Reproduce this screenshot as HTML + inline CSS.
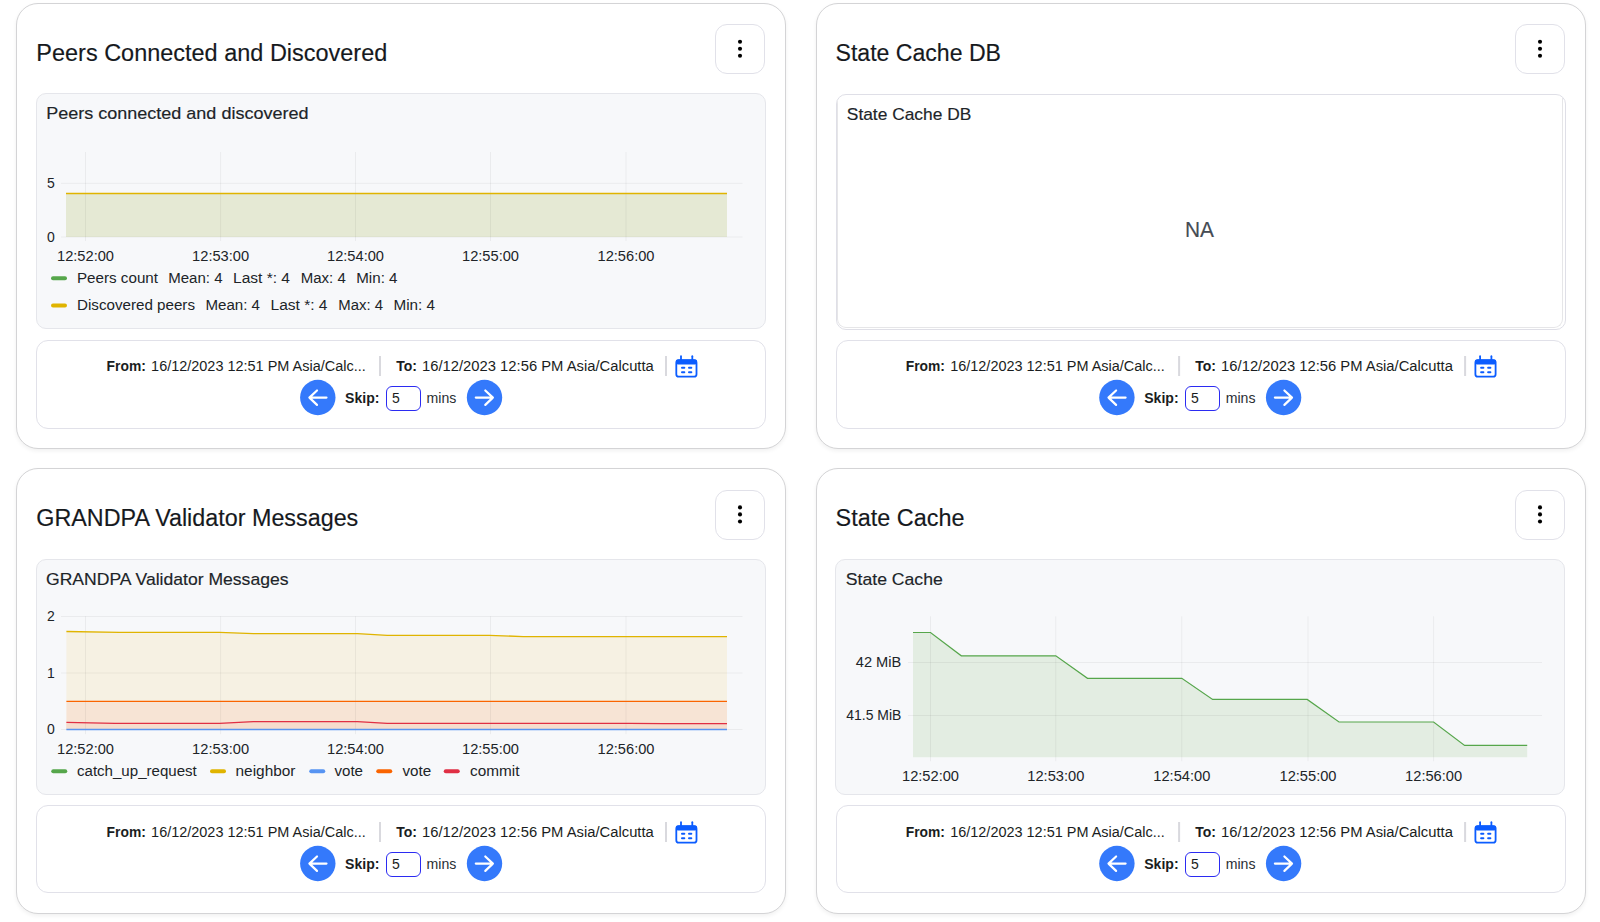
<!DOCTYPE html>
<html><head><meta charset="utf-8"><title>Dashboard</title><style>
*{box-sizing:border-box;margin:0;padding:0}
html,body{width:1600px;height:922px;overflow:hidden;background:#fff;font-family:"Liberation Sans",sans-serif}
.card{position:absolute;width:770px;height:445px;border:1.6px solid #d4d4d6;border-radius:22px;background:#fff;box-shadow:0 2px 4px rgba(0,0,0,0.06)}
.kebab{position:absolute;width:50px;height:50px;border:1px solid #e1e1e9;border-radius:12px;background:#fff}
.panel{position:absolute;background:#f7f8fa;border:1px solid #e5e6eb;border-radius:10px}
.foot{position:absolute;background:#fff;border:1px solid #e1e1e9;border-radius:12px}
.inp{position:absolute;width:35px;height:25.6px;border:1.7px solid #2b2bf2;border-radius:6px;background:#fff}
svg{position:absolute;left:0;top:0}
</style></head>
<body>
<div class="card" style="left:16px;top:3px;height:445.5px"></div>
<div class="kebab" style="left:715px;top:24px"></div>
<div class="panel" style="left:36px;top:93.3px;width:730px;height:236px"></div>
<div class="foot" style="left:36px;top:339.5px;width:730px;height:89px"></div>
<div class="inp" style="left:386px;top:385.5px"></div>
<div class="card" style="left:816px;top:3px;height:445.5px"></div>
<div class="kebab" style="left:1515px;top:24px"></div>
<div class="panel" style="left:835.75px;top:93.75px;width:730px;height:236px;background:#fff;border:1.6px solid #dfdfe7;overflow:hidden"><div style="position:absolute;left:0;top:0;right:2px;bottom:1px;border:1px solid #e6e6e8;border-top:none;border-radius:0 0 9px 9px"></div></div>
<div class="foot" style="left:836px;top:339.5px;width:730px;height:89px"></div>
<div class="inp" style="left:1184.8px;top:385.5px"></div>
<div class="card" style="left:16px;top:468.3px;height:446.2px"></div>
<div class="kebab" style="left:715px;top:489.6px"></div>
<div class="panel" style="left:36px;top:559.3px;width:730px;height:236px"></div>
<div class="foot" style="left:36px;top:804.9px;width:730px;height:88.6px"></div>
<div class="inp" style="left:386px;top:851.5px"></div>
<div class="card" style="left:816px;top:468.3px;height:446.2px"></div>
<div class="kebab" style="left:1515px;top:489.6px"></div>
<div class="panel" style="left:835.4px;top:559.3px;width:730px;height:236px"></div>
<div class="foot" style="left:836px;top:804.9px;width:730px;height:88.6px"></div>
<div class="inp" style="left:1184.8px;top:851.5px"></div>
<svg width="1600" height="922" viewBox="0 0 1600 922" font-family="Liberation Sans, sans-serif">
<text x="36.3" y="60.7" font-size="23" font-weight="400" fill="#16191d" stroke="#16191d" stroke-width="0.15" textLength="351" lengthAdjust="spacingAndGlyphs">Peers Connected and Discovered</text>
<text x="835.5" y="60.7" font-size="23" font-weight="400" fill="#16191d" stroke="#16191d" stroke-width="0.15" textLength="165.5" lengthAdjust="spacingAndGlyphs">State Cache DB</text>
<text x="36.3" y="526.2" font-size="23" font-weight="400" fill="#16191d" stroke="#16191d" stroke-width="0.15" textLength="322" lengthAdjust="spacingAndGlyphs">GRANDPA Validator Messages</text>
<text x="835.5" y="526.2" font-size="23" font-weight="400" fill="#16191d" stroke="#16191d" stroke-width="0.15" textLength="129" lengthAdjust="spacingAndGlyphs">State Cache</text>
<circle cx="740" cy="41.7" r="2.05" fill="#000"/><circle cx="740" cy="48.7" r="2.05" fill="#000"/><circle cx="740" cy="55.8" r="2.05" fill="#000"/>
<circle cx="1540" cy="41.7" r="2.05" fill="#000"/><circle cx="1540" cy="48.7" r="2.05" fill="#000"/><circle cx="1540" cy="55.8" r="2.05" fill="#000"/>
<circle cx="740" cy="507.4" r="2.05" fill="#000"/><circle cx="740" cy="514.4000000000001" r="2.05" fill="#000"/><circle cx="740" cy="521.5" r="2.05" fill="#000"/>
<circle cx="1540" cy="507.4" r="2.05" fill="#000"/><circle cx="1540" cy="514.4000000000001" r="2.05" fill="#000"/><circle cx="1540" cy="521.5" r="2.05" fill="#000"/>
<text x="46.2" y="118.7" font-size="15.7" font-weight="400" fill="#202428" stroke="#202428" stroke-width="0.15" textLength="262.3" lengthAdjust="spacingAndGlyphs">Peers connected and discovered</text>
<rect x="66" y="193.5" width="661" height="43.5" fill="#e5e9d4"/>
<line x1="85.5" y1="152" x2="85.5" y2="241" stroke="rgba(0,0,0,0.052)" stroke-width="1"/>
<line x1="220.6" y1="152" x2="220.6" y2="241" stroke="rgba(0,0,0,0.052)" stroke-width="1"/>
<line x1="355.5" y1="152" x2="355.5" y2="241" stroke="rgba(0,0,0,0.052)" stroke-width="1"/>
<line x1="490.5" y1="152" x2="490.5" y2="241" stroke="rgba(0,0,0,0.052)" stroke-width="1"/>
<line x1="626" y1="152" x2="626" y2="241" stroke="rgba(0,0,0,0.052)" stroke-width="1"/>
<line x1="61" y1="183.3" x2="742.5" y2="183.3" stroke="rgba(0,0,0,0.052)" stroke-width="1"/>
<line x1="61" y1="237" x2="742.5" y2="237" stroke="rgba(0,0,0,0.052)" stroke-width="1"/>
<line x1="66" y1="193.5" x2="727" y2="193.5" stroke="#e0b400" stroke-width="1.4"/>
<text x="51" y="187.5" font-size="14" font-weight="400" fill="#202428" stroke="#202428" stroke-width="0.0" text-anchor="middle">5</text>
<text x="51" y="241.5" font-size="14" font-weight="400" fill="#202428" stroke="#202428" stroke-width="0.0" text-anchor="middle">0</text>
<text x="85.5" y="261" font-size="14" font-weight="400" fill="#202428" stroke="#202428" stroke-width="0.0" textLength="57" lengthAdjust="spacingAndGlyphs" text-anchor="middle">12:52:00</text>
<text x="220.6" y="261" font-size="14" font-weight="400" fill="#202428" stroke="#202428" stroke-width="0.0" textLength="57" lengthAdjust="spacingAndGlyphs" text-anchor="middle">12:53:00</text>
<text x="355.5" y="261" font-size="14" font-weight="400" fill="#202428" stroke="#202428" stroke-width="0.0" textLength="57" lengthAdjust="spacingAndGlyphs" text-anchor="middle">12:54:00</text>
<text x="490.5" y="261" font-size="14" font-weight="400" fill="#202428" stroke="#202428" stroke-width="0.0" textLength="57" lengthAdjust="spacingAndGlyphs" text-anchor="middle">12:55:00</text>
<text x="626" y="261" font-size="14" font-weight="400" fill="#202428" stroke="#202428" stroke-width="0.0" textLength="57" lengthAdjust="spacingAndGlyphs" text-anchor="middle">12:56:00</text>
<rect x="51" y="276.2" width="16" height="4" rx="2" fill="#56a64b"/>
<rect x="51" y="303.5" width="16" height="4" rx="2" fill="#e0b400"/>
<text x="77" y="282.8" font-size="14" font-weight="400" fill="#202428" stroke="#202428" stroke-width="0.0" textLength="81" lengthAdjust="spacingAndGlyphs">Peers count</text>
<text x="168.25" y="282.8" font-size="14" font-weight="400" fill="#202428" stroke="#202428" stroke-width="0.0" textLength="54.25" lengthAdjust="spacingAndGlyphs">Mean: 4</text>
<text x="233" y="282.8" font-size="14" font-weight="400" fill="#202428" stroke="#202428" stroke-width="0.0" textLength="57" lengthAdjust="spacingAndGlyphs">Last *: 4</text>
<text x="300.75" y="282.8" font-size="14" font-weight="400" fill="#202428" stroke="#202428" stroke-width="0.0" textLength="45.0" lengthAdjust="spacingAndGlyphs">Max: 4</text>
<text x="356.25" y="282.8" font-size="14" font-weight="400" fill="#202428" stroke="#202428" stroke-width="0.0" textLength="41.25" lengthAdjust="spacingAndGlyphs">Min: 4</text>
<text x="77" y="309.8" font-size="14" font-weight="400" fill="#202428" stroke="#202428" stroke-width="0.0" textLength="118" lengthAdjust="spacingAndGlyphs">Discovered peers</text>
<text x="205.5" y="309.8" font-size="14" font-weight="400" fill="#202428" stroke="#202428" stroke-width="0.0" textLength="54.5" lengthAdjust="spacingAndGlyphs">Mean: 4</text>
<text x="270.5" y="309.8" font-size="14" font-weight="400" fill="#202428" stroke="#202428" stroke-width="0.0" textLength="57.0" lengthAdjust="spacingAndGlyphs">Last *: 4</text>
<text x="338.25" y="309.8" font-size="14" font-weight="400" fill="#202428" stroke="#202428" stroke-width="0.0" textLength="44.75" lengthAdjust="spacingAndGlyphs">Max: 4</text>
<text x="393.5" y="309.8" font-size="14" font-weight="400" fill="#202428" stroke="#202428" stroke-width="0.0" textLength="41.5" lengthAdjust="spacingAndGlyphs">Min: 4</text>
<text x="846.8" y="120.2" font-size="15.7" font-weight="400" fill="#202428" stroke="#202428" stroke-width="0.15" textLength="124.5" lengthAdjust="spacingAndGlyphs">State Cache DB</text>
<text x="1199.5" y="236.8" font-size="21.5" font-weight="400" fill="#464c54" stroke="#464c54" stroke-width="0.15" textLength="29" lengthAdjust="spacingAndGlyphs" text-anchor="middle">NA</text>
<text x="46" y="584.5" font-size="15.7" font-weight="400" fill="#202428" stroke="#202428" stroke-width="0.15" textLength="242.5" lengthAdjust="spacingAndGlyphs">GRANDPA Validator Messages</text>
<polygon points="66.4,631.5 119.5,632.3 219.4,632.3 253.4,633.6 357.5,633.6 387.2,635.3 489.2,635.3 523.2,636.6 727,636.6 727,701.2 66.4,701.2" fill="#f6f1e3"/>
<rect x="66.4" y="701.2" width="660.6" height="28.3" fill="#f7e4d5"/>
<polygon points="66.4,722.4 115,723.3 219.4,723.3 253.4,721.6 357.5,721.6 387.2,723.3 629.5,723.3 663.5,723.7 727,723.7 727,729.5 66.4,729.5" fill="#f6dccd"/>
<line x1="85.5" y1="616.3" x2="85.5" y2="734.2" stroke="rgba(0,0,0,0.052)" stroke-width="1"/>
<line x1="220.6" y1="616.3" x2="220.6" y2="734.2" stroke="rgba(0,0,0,0.052)" stroke-width="1"/>
<line x1="355.5" y1="616.3" x2="355.5" y2="734.2" stroke="rgba(0,0,0,0.052)" stroke-width="1"/>
<line x1="490.5" y1="616.3" x2="490.5" y2="734.2" stroke="rgba(0,0,0,0.052)" stroke-width="1"/>
<line x1="626" y1="616.3" x2="626" y2="734.2" stroke="rgba(0,0,0,0.052)" stroke-width="1"/>
<line x1="61" y1="616.5" x2="742.5" y2="616.5" stroke="rgba(0,0,0,0.052)" stroke-width="1"/>
<line x1="61" y1="673.0" x2="742.5" y2="673.0" stroke="rgba(0,0,0,0.052)" stroke-width="1"/>
<line x1="61" y1="729.5" x2="742.5" y2="729.5" stroke="rgba(0,0,0,0.052)" stroke-width="1"/>
<polyline points="66.4,631.5 119.5,632.3 219.4,632.3 253.4,633.6 357.5,633.6 387.2,635.3 489.2,635.3 523.2,636.6 727,636.6" fill="none" stroke="#e0b400" stroke-width="1.3"/>
<line x1="66.4" y1="701.3" x2="727" y2="701.3" stroke="#fa6400" stroke-width="1.2"/>
<polyline points="66.4,722.4 115,723.3 219.4,723.3 253.4,721.6 357.5,721.6 387.2,723.3 629.5,723.3 663.5,723.7 727,723.7" fill="none" stroke="#e02f44" stroke-width="1.3"/>
<line x1="66.4" y1="729.5" x2="727" y2="729.5" stroke="#5794f2" stroke-width="1.3"/>
<text x="51" y="620.8" font-size="14" font-weight="400" fill="#202428" stroke="#202428" stroke-width="0.0" text-anchor="middle">2</text>
<text x="51" y="677.5" font-size="14" font-weight="400" fill="#202428" stroke="#202428" stroke-width="0.0" text-anchor="middle">1</text>
<text x="51" y="734.2" font-size="14" font-weight="400" fill="#202428" stroke="#202428" stroke-width="0.0" text-anchor="middle">0</text>
<text x="85.5" y="753.7" font-size="14" font-weight="400" fill="#202428" stroke="#202428" stroke-width="0.0" textLength="57" lengthAdjust="spacingAndGlyphs" text-anchor="middle">12:52:00</text>
<text x="220.6" y="753.7" font-size="14" font-weight="400" fill="#202428" stroke="#202428" stroke-width="0.0" textLength="57" lengthAdjust="spacingAndGlyphs" text-anchor="middle">12:53:00</text>
<text x="355.5" y="753.7" font-size="14" font-weight="400" fill="#202428" stroke="#202428" stroke-width="0.0" textLength="57" lengthAdjust="spacingAndGlyphs" text-anchor="middle">12:54:00</text>
<text x="490.5" y="753.7" font-size="14" font-weight="400" fill="#202428" stroke="#202428" stroke-width="0.0" textLength="57" lengthAdjust="spacingAndGlyphs" text-anchor="middle">12:55:00</text>
<text x="626" y="753.7" font-size="14" font-weight="400" fill="#202428" stroke="#202428" stroke-width="0.0" textLength="57" lengthAdjust="spacingAndGlyphs" text-anchor="middle">12:56:00</text>
<rect x="51.25" y="769.2" width="16" height="4" rx="2" fill="#56a64b"/>
<text x="77" y="775.8" font-size="14" font-weight="400" fill="#202428" stroke="#202428" stroke-width="0.0" textLength="119.75" lengthAdjust="spacingAndGlyphs">catch_up_request</text>
<rect x="210" y="769.2" width="16" height="4" rx="2" fill="#e0b400"/>
<text x="235.5" y="775.8" font-size="14" font-weight="400" fill="#202428" stroke="#202428" stroke-width="0.0" textLength="60.0" lengthAdjust="spacingAndGlyphs">neighbor</text>
<rect x="309.25" y="769.2" width="16" height="4" rx="2" fill="#5794f2"/>
<text x="334.5" y="775.8" font-size="14" font-weight="400" fill="#202428" stroke="#202428" stroke-width="0.0" textLength="28.5" lengthAdjust="spacingAndGlyphs">vote</text>
<rect x="376.25" y="769.2" width="16" height="4" rx="2" fill="#fa6400"/>
<text x="402.5" y="775.8" font-size="14" font-weight="400" fill="#202428" stroke="#202428" stroke-width="0.0" textLength="28.75" lengthAdjust="spacingAndGlyphs">vote</text>
<rect x="443.75" y="769.2" width="16" height="4" rx="2" fill="#e02f44"/>
<text x="470" y="775.8" font-size="14" font-weight="400" fill="#202428" stroke="#202428" stroke-width="0.0" textLength="49.5" lengthAdjust="spacingAndGlyphs">commit</text>
<text x="845.8" y="584.6" font-size="15.7" font-weight="400" fill="#202428" stroke="#202428" stroke-width="0.15" textLength="97" lengthAdjust="spacingAndGlyphs">State Cache</text>
<polygon points="913,632.5 930.5,632.5 961.3,655.8 1055.8,655.8 1087.5,678.3 1181.8,678.3 1212.6,699.4 1307.2,699.4 1339,722 1433.6,722 1464.6,745.4 1527.2,745.4 1527.2,757.2 913,757.2" fill="#e3ede2"/>
<line x1="930.5" y1="616.3" x2="930.5" y2="761.3" stroke="rgba(0,0,0,0.052)" stroke-width="1"/>
<line x1="1055.8" y1="616.3" x2="1055.8" y2="761.3" stroke="rgba(0,0,0,0.052)" stroke-width="1"/>
<line x1="1181.8" y1="616.3" x2="1181.8" y2="761.3" stroke="rgba(0,0,0,0.052)" stroke-width="1"/>
<line x1="1308" y1="616.3" x2="1308" y2="761.3" stroke="rgba(0,0,0,0.052)" stroke-width="1"/>
<line x1="1433.6" y1="616.3" x2="1433.6" y2="761.3" stroke="rgba(0,0,0,0.052)" stroke-width="1"/>
<line x1="908" y1="662.5" x2="1542" y2="662.5" stroke="rgba(0,0,0,0.052)" stroke-width="1"/>
<line x1="908" y1="715.5" x2="1542" y2="715.5" stroke="rgba(0,0,0,0.052)" stroke-width="1"/>
<polyline points="913,632.5 930.5,632.5 961.3,655.8 1055.8,655.8 1087.5,678.3 1181.8,678.3 1212.6,699.4 1307.2,699.4 1339,722 1433.6,722 1464.6,745.4 1527.2,745.4" fill="none" stroke="#56a64b" stroke-width="1.2"/>
<text x="901.3" y="667" font-size="14" font-weight="400" fill="#202428" stroke="#202428" stroke-width="0.0" textLength="45.5" lengthAdjust="spacingAndGlyphs" text-anchor="end">42 MiB</text>
<text x="901.3" y="719.5" font-size="14" font-weight="400" fill="#202428" stroke="#202428" stroke-width="0.0" textLength="55" lengthAdjust="spacingAndGlyphs" text-anchor="end">41.5 MiB</text>
<text x="930.5" y="780.5" font-size="14" font-weight="400" fill="#202428" stroke="#202428" stroke-width="0.0" textLength="57" lengthAdjust="spacingAndGlyphs" text-anchor="middle">12:52:00</text>
<text x="1055.8" y="780.5" font-size="14" font-weight="400" fill="#202428" stroke="#202428" stroke-width="0.0" textLength="57" lengthAdjust="spacingAndGlyphs" text-anchor="middle">12:53:00</text>
<text x="1181.8" y="780.5" font-size="14" font-weight="400" fill="#202428" stroke="#202428" stroke-width="0.0" textLength="57" lengthAdjust="spacingAndGlyphs" text-anchor="middle">12:54:00</text>
<text x="1308" y="780.5" font-size="14" font-weight="400" fill="#202428" stroke="#202428" stroke-width="0.0" textLength="57" lengthAdjust="spacingAndGlyphs" text-anchor="middle">12:55:00</text>
<text x="1433.6" y="780.5" font-size="14" font-weight="400" fill="#202428" stroke="#202428" stroke-width="0.0" textLength="57" lengthAdjust="spacingAndGlyphs" text-anchor="middle">12:56:00</text>
<g transform="translate(0,0)"><text x="106.6" y="370.7" font-size="14" font-weight="700" fill="#1a1d21" stroke="#1a1d21" stroke-width="0.0" textLength="39.2" lengthAdjust="spacingAndGlyphs">From:</text><text x="151.1" y="370.7" font-size="14" font-weight="400" fill="#1a1d21" stroke="#1a1d21" stroke-width="0.0" textLength="214.6" lengthAdjust="spacingAndGlyphs">16/12/2023 12:51 PM Asia/Calc...</text><rect x="379" y="356" width="2" height="20" fill="#d9d9de"/><text x="396.2" y="370.7" font-size="14" font-weight="700" fill="#1a1d21" stroke="#1a1d21" stroke-width="0.0">To:</text><text x="422" y="370.7" font-size="14" font-weight="400" fill="#1a1d21" stroke="#1a1d21" stroke-width="0.0" textLength="231.8" lengthAdjust="spacingAndGlyphs">16/12/2023 12:56 PM Asia/Calcutta</text><rect x="665" y="356" width="2" height="20" fill="#d9d9de"/><g fill="none" stroke="#0b5cff" stroke-width="1.8" stroke-linecap="round"><rect x="676.3" y="360.2" width="20.2" height="16.5" rx="2.5"/><line x1="681" y1="356.2" x2="681" y2="360"/><line x1="692.3" y1="356.2" x2="692.3" y2="360"/></g><rect x="676" y="359.5" width="21" height="5" rx="2" fill="#0b5cff"/><g stroke="#0b5cff" stroke-width="2" stroke-linecap="round"><line x1="682" y1="367.8" x2="684.3" y2="367.8"/><line x1="689" y1="367.8" x2="691.3" y2="367.8"/><line x1="682" y1="372.3" x2="684.3" y2="372.3"/><line x1="689" y1="372.3" x2="691.3" y2="372.3"/></g><circle cx="317.8" cy="397.5" r="17.7" fill="#3479fb"/><g stroke="#fff" stroke-width="2.2" fill="none" stroke-linecap="round" stroke-linejoin="round"><path d="M326.5 397.6H309.4M317 390.5L309.4 397.6L317 404.9"/></g><text x="345.1" y="402.9" font-size="14" font-weight="700" fill="#1a1d21" stroke="#1a1d21" stroke-width="0.0" textLength="34.4" lengthAdjust="spacingAndGlyphs">Skip:</text><text x="392" y="402.9" font-size="14" font-weight="400" fill="#1a1d21" stroke="#1a1d21" stroke-width="0.0">5</text><text x="426.6" y="402.9" font-size="14" font-weight="400" fill="#2a2e33" stroke="#2a2e33" stroke-width="0.0" textLength="29.8" lengthAdjust="spacingAndGlyphs">mins</text><circle cx="484.5" cy="397.5" r="17.7" fill="#3479fb"/><g stroke="#fff" stroke-width="2.2" fill="none" stroke-linecap="round" stroke-linejoin="round"><path d="M475.8 397.6H492.9M485.3 390.5L492.9 397.6L485.3 404.9"/></g></g>
<g transform="translate(799.1,0)"><text x="106.6" y="370.7" font-size="14" font-weight="700" fill="#1a1d21" stroke="#1a1d21" stroke-width="0.0" textLength="39.2" lengthAdjust="spacingAndGlyphs">From:</text><text x="151.1" y="370.7" font-size="14" font-weight="400" fill="#1a1d21" stroke="#1a1d21" stroke-width="0.0" textLength="214.6" lengthAdjust="spacingAndGlyphs">16/12/2023 12:51 PM Asia/Calc...</text><rect x="379" y="356" width="2" height="20" fill="#d9d9de"/><text x="396.2" y="370.7" font-size="14" font-weight="700" fill="#1a1d21" stroke="#1a1d21" stroke-width="0.0">To:</text><text x="422" y="370.7" font-size="14" font-weight="400" fill="#1a1d21" stroke="#1a1d21" stroke-width="0.0" textLength="231.8" lengthAdjust="spacingAndGlyphs">16/12/2023 12:56 PM Asia/Calcutta</text><rect x="665" y="356" width="2" height="20" fill="#d9d9de"/><g fill="none" stroke="#0b5cff" stroke-width="1.8" stroke-linecap="round"><rect x="676.3" y="360.2" width="20.2" height="16.5" rx="2.5"/><line x1="681" y1="356.2" x2="681" y2="360"/><line x1="692.3" y1="356.2" x2="692.3" y2="360"/></g><rect x="676" y="359.5" width="21" height="5" rx="2" fill="#0b5cff"/><g stroke="#0b5cff" stroke-width="2" stroke-linecap="round"><line x1="682" y1="367.8" x2="684.3" y2="367.8"/><line x1="689" y1="367.8" x2="691.3" y2="367.8"/><line x1="682" y1="372.3" x2="684.3" y2="372.3"/><line x1="689" y1="372.3" x2="691.3" y2="372.3"/></g><circle cx="317.8" cy="397.5" r="17.7" fill="#3479fb"/><g stroke="#fff" stroke-width="2.2" fill="none" stroke-linecap="round" stroke-linejoin="round"><path d="M326.5 397.6H309.4M317 390.5L309.4 397.6L317 404.9"/></g><text x="345.1" y="402.9" font-size="14" font-weight="700" fill="#1a1d21" stroke="#1a1d21" stroke-width="0.0" textLength="34.4" lengthAdjust="spacingAndGlyphs">Skip:</text><text x="392" y="402.9" font-size="14" font-weight="400" fill="#1a1d21" stroke="#1a1d21" stroke-width="0.0">5</text><text x="426.6" y="402.9" font-size="14" font-weight="400" fill="#2a2e33" stroke="#2a2e33" stroke-width="0.0" textLength="29.8" lengthAdjust="spacingAndGlyphs">mins</text><circle cx="484.5" cy="397.5" r="17.7" fill="#3479fb"/><g stroke="#fff" stroke-width="2.2" fill="none" stroke-linecap="round" stroke-linejoin="round"><path d="M475.8 397.6H492.9M485.3 390.5L492.9 397.6L485.3 404.9"/></g></g>
<g transform="translate(0,466)"><text x="106.6" y="370.7" font-size="14" font-weight="700" fill="#1a1d21" stroke="#1a1d21" stroke-width="0.0" textLength="39.2" lengthAdjust="spacingAndGlyphs">From:</text><text x="151.1" y="370.7" font-size="14" font-weight="400" fill="#1a1d21" stroke="#1a1d21" stroke-width="0.0" textLength="214.6" lengthAdjust="spacingAndGlyphs">16/12/2023 12:51 PM Asia/Calc...</text><rect x="379" y="356" width="2" height="20" fill="#d9d9de"/><text x="396.2" y="370.7" font-size="14" font-weight="700" fill="#1a1d21" stroke="#1a1d21" stroke-width="0.0">To:</text><text x="422" y="370.7" font-size="14" font-weight="400" fill="#1a1d21" stroke="#1a1d21" stroke-width="0.0" textLength="231.8" lengthAdjust="spacingAndGlyphs">16/12/2023 12:56 PM Asia/Calcutta</text><rect x="665" y="356" width="2" height="20" fill="#d9d9de"/><g fill="none" stroke="#0b5cff" stroke-width="1.8" stroke-linecap="round"><rect x="676.3" y="360.2" width="20.2" height="16.5" rx="2.5"/><line x1="681" y1="356.2" x2="681" y2="360"/><line x1="692.3" y1="356.2" x2="692.3" y2="360"/></g><rect x="676" y="359.5" width="21" height="5" rx="2" fill="#0b5cff"/><g stroke="#0b5cff" stroke-width="2" stroke-linecap="round"><line x1="682" y1="367.8" x2="684.3" y2="367.8"/><line x1="689" y1="367.8" x2="691.3" y2="367.8"/><line x1="682" y1="372.3" x2="684.3" y2="372.3"/><line x1="689" y1="372.3" x2="691.3" y2="372.3"/></g><circle cx="317.8" cy="397.5" r="17.7" fill="#3479fb"/><g stroke="#fff" stroke-width="2.2" fill="none" stroke-linecap="round" stroke-linejoin="round"><path d="M326.5 397.6H309.4M317 390.5L309.4 397.6L317 404.9"/></g><text x="345.1" y="402.9" font-size="14" font-weight="700" fill="#1a1d21" stroke="#1a1d21" stroke-width="0.0" textLength="34.4" lengthAdjust="spacingAndGlyphs">Skip:</text><text x="392" y="402.9" font-size="14" font-weight="400" fill="#1a1d21" stroke="#1a1d21" stroke-width="0.0">5</text><text x="426.6" y="402.9" font-size="14" font-weight="400" fill="#2a2e33" stroke="#2a2e33" stroke-width="0.0" textLength="29.8" lengthAdjust="spacingAndGlyphs">mins</text><circle cx="484.5" cy="397.5" r="17.7" fill="#3479fb"/><g stroke="#fff" stroke-width="2.2" fill="none" stroke-linecap="round" stroke-linejoin="round"><path d="M475.8 397.6H492.9M485.3 390.5L492.9 397.6L485.3 404.9"/></g></g>
<g transform="translate(799.1,466)"><text x="106.6" y="370.7" font-size="14" font-weight="700" fill="#1a1d21" stroke="#1a1d21" stroke-width="0.0" textLength="39.2" lengthAdjust="spacingAndGlyphs">From:</text><text x="151.1" y="370.7" font-size="14" font-weight="400" fill="#1a1d21" stroke="#1a1d21" stroke-width="0.0" textLength="214.6" lengthAdjust="spacingAndGlyphs">16/12/2023 12:51 PM Asia/Calc...</text><rect x="379" y="356" width="2" height="20" fill="#d9d9de"/><text x="396.2" y="370.7" font-size="14" font-weight="700" fill="#1a1d21" stroke="#1a1d21" stroke-width="0.0">To:</text><text x="422" y="370.7" font-size="14" font-weight="400" fill="#1a1d21" stroke="#1a1d21" stroke-width="0.0" textLength="231.8" lengthAdjust="spacingAndGlyphs">16/12/2023 12:56 PM Asia/Calcutta</text><rect x="665" y="356" width="2" height="20" fill="#d9d9de"/><g fill="none" stroke="#0b5cff" stroke-width="1.8" stroke-linecap="round"><rect x="676.3" y="360.2" width="20.2" height="16.5" rx="2.5"/><line x1="681" y1="356.2" x2="681" y2="360"/><line x1="692.3" y1="356.2" x2="692.3" y2="360"/></g><rect x="676" y="359.5" width="21" height="5" rx="2" fill="#0b5cff"/><g stroke="#0b5cff" stroke-width="2" stroke-linecap="round"><line x1="682" y1="367.8" x2="684.3" y2="367.8"/><line x1="689" y1="367.8" x2="691.3" y2="367.8"/><line x1="682" y1="372.3" x2="684.3" y2="372.3"/><line x1="689" y1="372.3" x2="691.3" y2="372.3"/></g><circle cx="317.8" cy="397.5" r="17.7" fill="#3479fb"/><g stroke="#fff" stroke-width="2.2" fill="none" stroke-linecap="round" stroke-linejoin="round"><path d="M326.5 397.6H309.4M317 390.5L309.4 397.6L317 404.9"/></g><text x="345.1" y="402.9" font-size="14" font-weight="700" fill="#1a1d21" stroke="#1a1d21" stroke-width="0.0" textLength="34.4" lengthAdjust="spacingAndGlyphs">Skip:</text><text x="392" y="402.9" font-size="14" font-weight="400" fill="#1a1d21" stroke="#1a1d21" stroke-width="0.0">5</text><text x="426.6" y="402.9" font-size="14" font-weight="400" fill="#2a2e33" stroke="#2a2e33" stroke-width="0.0" textLength="29.8" lengthAdjust="spacingAndGlyphs">mins</text><circle cx="484.5" cy="397.5" r="17.7" fill="#3479fb"/><g stroke="#fff" stroke-width="2.2" fill="none" stroke-linecap="round" stroke-linejoin="round"><path d="M475.8 397.6H492.9M485.3 390.5L492.9 397.6L485.3 404.9"/></g></g>
</svg>
</body></html>
